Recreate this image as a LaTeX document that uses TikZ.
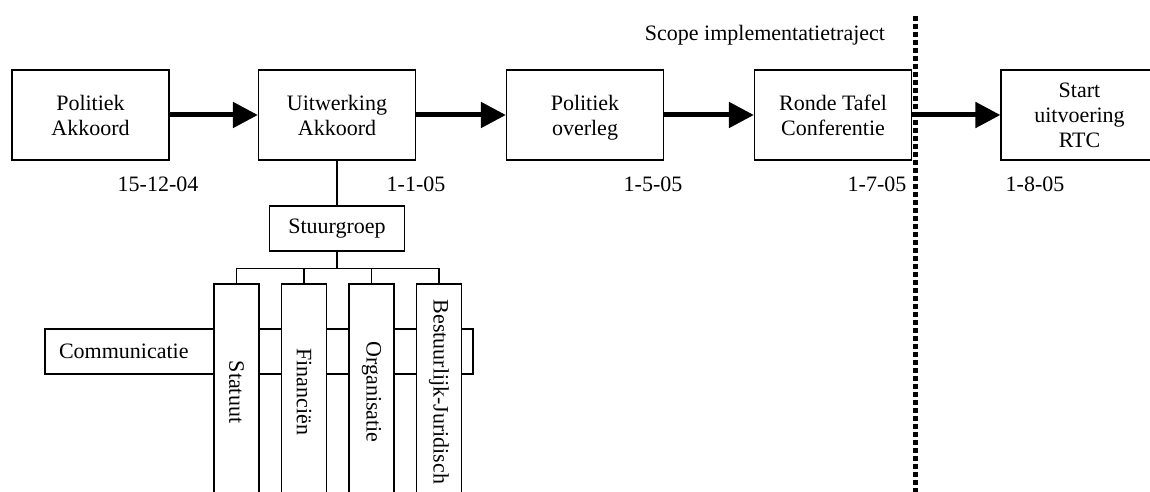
\documentclass[tikz,border=0pt]{standalone}
\usepackage{fontspec}
\setmainfont{Liberation Serif}
\usepackage{tikz}
\usetikzlibrary{arrows.meta, positioning}
\tikzset{
  fasebox/.style={draw,line width=1.2pt,minimum width=157pt,minimum height=90pt,inner sep=0pt,text depth=0pt,align=center,font=\fontsize{22}{25}\selectfont},
  datelbl/.style={anchor=base,inner sep=0pt,font=\fontsize{22}{25}\selectfont},
  orgbox/.style={draw,fill=white,line width=1.2pt,inner sep=0pt,font=\fontsize{22}{25}\selectfont},
  werkbox/.style={orgbox,rotate=-90,minimum width=216pt,minimum height=45pt},
  flowarrow/.style={-{Triangle[length=25pt,width=25pt]},line width=5pt},
  orgline/.style={line width=1.2pt},
  scopeline/.style={line width=5pt,dash pattern=on 5pt off 3pt},
}
\begin{document}
\begin{tikzpicture}[x=1pt,y=-1pt]
  \clip (0,0) rectangle (1150,492);
  \node[fasebox] (nPA) at (90.5,115) {Politiek\\Akkoord};
  \node[fasebox] (nUA) at (337,115) {Uitwerking\\Akkoord};
  \node[fasebox] (nPO) at (585,115) {Politiek\\overleg};
  \node[fasebox] (nRTC) at (833,115) {Ronde Tafel\\Conferentie};
  \node[fasebox] (nSU) at (1079.5,115) {Start\\uitvoering\\RTC};
  \node[datelbl] (dPA) at (158,191) {15-12-04};
  \node[datelbl] (dUA) at (416,191) {1-1-05};
  \node[datelbl] (dPO) at (653,191) {1-5-05};
  \node[datelbl] (dRTC) at (877,191) {1-7-05};
  \node[datelbl] (dSU) at (1035,191) {1-8-05};
  \node[datelbl] (lScope) at (765,41) {Scope implementatietraject};
  \draw[flowarrow] (nPA) -- (nUA);
  \draw[flowarrow] (nUA) -- (nPO);
  \draw[flowarrow] (nPO) -- (nRTC);
  \draw[flowarrow] (nRTC) -- (nSU);
  \coordinate (scopetop) at (915,16);
  \coordinate (scopebot) at (915,492);
  \draw[scopeline] (scopetop) -- (scopebot);
  \node[orgbox,minimum width=135pt,minimum height=45pt] (nSG) at (337,228.5) {Stuurgroep};
  \draw[orgline] (nUA.south) -- (nSG.north);
  \node[orgbox,minimum height=45pt,text width=400pt,inner xsep=14pt,align=left] (nCO) at (259,351.5) {Communicatie};
  \node[werkbox] (nST) at (236.5,392) {Statuut};
  \node[werkbox] (nFI) at (304,392) {Financiën};
  \node[werkbox] (nOR) at (371.5,392) {Organisatie};
  \node[werkbox] (nBJ) at (439,392) {Bestuurlijk-Juridisch};
  \draw[orgline] (nSG.south) -- ++(0,17) coordinate (bar);
  \draw[orgline] (bar) -| (nST.west);
  \draw[orgline] (bar) -| (nFI.west);
  \draw[orgline] (bar) -| (nOR.west);
  \draw[orgline] (bar) -| (nBJ.west);
\end{tikzpicture}
\end{document}
